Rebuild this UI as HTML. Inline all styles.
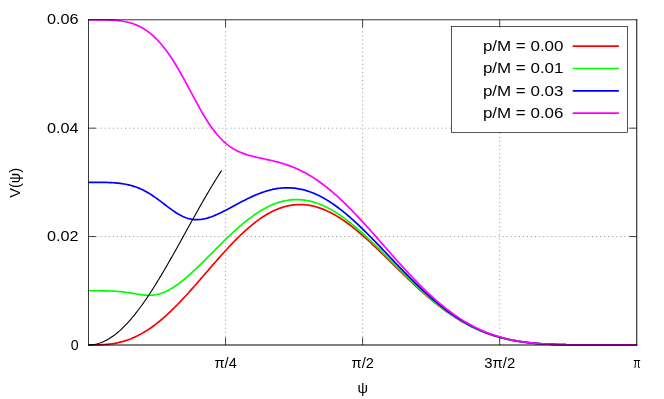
<!DOCTYPE html>
<html lang="en">
<head>
<meta charset="utf-8">
<title>V(ψ) potential for several p/M</title>
<style>
html,body{margin:0;padding:0;background:#ffffff;}
body{width:664px;height:399px;overflow:hidden;font-family:"Liberation Sans",sans-serif;}
svg{display:block;will-change:transform;}
svg text{-webkit-font-smoothing:antialiased;font-family:"Liberation Sans",sans-serif;font-size:14.8px;fill:#000000;}
</style>
</head>
<body>
<svg role="img" aria-label="Plot of V(ψ) versus ψ for p/M = 0.00, 0.01, 0.03, 0.06" width="664" height="399" viewBox="0 0 664 399">
<rect x="0" y="0" width="664" height="399" fill="#ffffff"/>
<path d="M225.56,344.95 V19.78 M362.62,344.95 V19.78 M499.69,344.95 V19.78 M88.50,236.56 H636.75 M88.50,128.17 H636.75" fill="none" stroke="#959595" stroke-width="1" stroke-dasharray="1 3.06"/>
<path d="M88.50,344.95 L89.87,344.95 L91.25,344.95 L92.62,344.94 L94.00,344.93 L95.37,344.92 L96.74,344.89 L98.12,344.86 L99.49,344.82 L100.87,344.77 L102.24,344.70 L103.61,344.62 L104.99,344.52 L106.36,344.41 L107.74,344.28 L109.11,344.13 L110.48,343.97 L111.86,343.78 L113.23,343.57 L114.61,343.35 L115.98,343.09 L117.36,342.82 L118.73,342.52 L120.10,342.20 L121.48,341.85 L122.85,341.48 L124.23,341.08 L125.60,340.65 L126.97,340.20 L128.35,339.72 L129.72,339.21 L131.10,338.68 L132.47,338.11 L133.84,337.52 L135.22,336.90 L136.59,336.25 L137.97,335.58 L139.34,334.87 L140.71,334.13 L142.09,333.37 L143.46,332.58 L144.84,331.75 L146.21,330.90 L147.58,330.03 L148.96,329.12 L150.33,328.19 L151.71,327.22 L153.08,326.23 L154.45,325.22 L155.83,324.17 L157.20,323.10 L158.58,322.01 L159.95,320.89 L161.33,319.74 L162.70,318.57 L164.07,317.37 L165.45,316.16 L166.82,314.91 L168.20,313.65 L169.57,312.36 L170.94,311.06 L172.32,309.73 L173.69,308.38 L175.07,307.01 L176.44,305.63 L177.81,304.23 L179.19,302.81 L180.56,301.37 L181.94,299.92 L183.31,298.45 L184.68,296.97 L186.06,295.47 L187.43,293.97 L188.81,292.45 L190.18,290.92 L191.55,289.38 L192.93,287.83 L194.30,286.27 L195.68,284.71 L197.05,283.14 L198.42,281.56 L199.80,279.98 L201.17,278.40 L202.55,276.81 L203.92,275.22 L205.30,273.63 L206.67,272.04 L208.04,270.45 L209.42,268.86 L210.79,267.27 L212.17,265.68 L213.54,264.10 L214.91,262.53 L216.29,260.96 L217.66,259.40 L219.04,257.84 L220.41,256.30 L221.78,254.76 L223.16,253.23 L224.53,251.72 L225.91,250.21 L227.28,248.72 L228.65,247.24 L230.03,245.78 L231.40,244.33 L232.78,242.90 L234.15,241.48 L235.52,240.08 L236.90,238.70 L238.27,237.34 L239.65,236.00 L241.02,234.68 L242.39,233.38 L243.77,232.10 L245.14,230.84 L246.52,229.61 L247.89,228.40 L249.27,227.21 L250.64,226.05 L252.01,224.92 L253.39,223.81 L254.76,222.73 L256.14,221.67 L257.51,220.64 L258.88,219.65 L260.26,218.67 L261.63,217.73 L263.01,216.82 L264.38,215.94 L265.75,215.09 L267.13,214.27 L268.50,213.48 L269.88,212.72 L271.25,212.00 L272.62,211.31 L274.00,210.64 L275.37,210.02 L276.75,209.42 L278.12,208.86 L279.49,208.33 L280.87,207.84 L282.24,207.38 L283.62,206.95 L284.99,206.56 L286.36,206.20 L287.74,205.88 L289.11,205.59 L290.49,205.34 L291.86,205.12 L293.23,204.93 L294.61,204.78 L295.98,204.66 L297.36,204.58 L298.73,204.54 L300.11,204.52 L301.48,204.54 L302.85,204.60 L304.23,204.69 L305.60,204.81 L306.98,204.97 L308.35,205.16 L309.72,205.38 L311.10,205.64 L312.47,205.93 L313.85,206.25 L315.22,206.60 L316.59,206.99 L317.97,207.41 L319.34,207.86 L320.72,208.34 L322.09,208.85 L323.46,209.39 L324.84,209.96 L326.21,210.56 L327.59,211.19 L328.96,211.84 L330.33,212.53 L331.71,213.24 L333.08,213.98 L334.46,214.75 L335.83,215.54 L337.20,216.36 L338.58,217.20 L339.95,218.07 L341.33,218.96 L342.70,219.88 L344.08,220.82 L345.45,221.78 L346.82,222.76 L348.20,223.76 L349.57,224.79 L350.95,225.83 L352.32,226.90 L353.69,227.98 L355.07,229.08 L356.44,230.20 L357.82,231.33 L359.19,232.49 L360.56,233.65 L361.94,234.83 L363.31,236.03 L364.69,237.24 L366.06,238.47 L367.43,239.70 L368.81,240.95 L370.18,242.21 L371.56,243.48 L372.93,244.76 L374.30,246.04 L375.68,247.34 L377.05,248.65 L378.43,249.96 L379.80,251.27 L381.17,252.60 L382.55,253.93 L383.92,255.26 L385.30,256.60 L386.67,257.94 L388.05,259.28 L389.42,260.63 L390.79,261.98 L392.17,263.33 L393.54,264.67 L394.92,266.02 L396.29,267.37 L397.66,268.72 L399.04,270.06 L400.41,271.40 L401.79,272.74 L403.16,274.07 L404.53,275.40 L405.91,276.72 L407.28,278.04 L408.66,279.36 L410.03,280.66 L411.40,281.96 L412.78,283.25 L414.15,284.54 L415.53,285.82 L416.90,287.08 L418.27,288.34 L419.65,289.59 L421.02,290.83 L422.40,292.05 L423.77,293.27 L425.14,294.48 L426.52,295.67 L427.89,296.85 L429.27,298.02 L430.64,299.18 L432.02,300.32 L433.39,301.45 L434.76,302.57 L436.14,303.67 L437.51,304.76 L438.89,305.83 L440.26,306.89 L441.63,307.94 L443.01,308.97 L444.38,309.98 L445.76,310.98 L447.13,311.96 L448.50,312.93 L449.88,313.88 L451.25,314.82 L452.63,315.74 L454.00,316.64 L455.37,317.53 L456.75,318.40 L458.12,319.25 L459.50,320.09 L460.87,320.91 L462.24,321.71 L463.62,322.50 L464.99,323.27 L466.37,324.02 L467.74,324.76 L469.11,325.48 L470.49,326.18 L471.86,326.87 L473.24,327.54 L474.61,328.19 L475.98,328.83 L477.36,329.45 L478.73,330.06 L480.11,330.65 L481.48,331.22 L482.86,331.78 L484.23,332.32 L485.60,332.85 L486.98,333.36 L488.35,333.86 L489.73,334.34 L491.10,334.80 L492.47,335.26 L493.85,335.69 L495.22,336.12 L496.60,336.53 L497.97,336.92 L499.34,337.31 L500.72,337.68 L502.09,338.03 L503.47,338.38 L504.84,338.71 L506.21,339.03 L507.59,339.33 L508.96,339.63 L510.34,339.91 L511.71,340.18 L513.08,340.45 L514.46,340.70 L515.83,340.94 L517.21,341.17 L518.58,341.38 L519.95,341.59 L521.33,341.80 L522.70,341.99 L524.08,342.17 L525.45,342.34 L526.83,342.51 L528.20,342.66 L529.57,342.81 L530.95,342.96 L532.32,343.09 L533.70,343.22 L535.07,343.34 L536.44,343.45 L537.82,343.56 L539.19,343.66 L540.57,343.76 L541.94,343.85 L543.31,343.93 L544.69,344.01 L546.06,344.08 L547.44,344.15 L548.81,344.22 L550.18,344.28 L551.56,344.34 L552.93,344.39 L554.31,344.44 L555.68,344.49 L557.05,344.53 L558.43,344.57 L559.80,344.60 L561.18,344.64 L562.55,344.67 L563.92,344.70 L565.30,344.72 L566.67,344.75 L568.05,344.77 L569.42,344.79 L570.80,344.81 L572.17,344.82 L573.54,344.84 L574.92,344.85 L576.29,344.86 L577.67,344.87 L579.04,344.88 L580.41,344.89 L581.79,344.90 L583.16,344.91 L584.54,344.91 L585.91,344.92 L587.28,344.92 L588.66,344.93 L590.03,344.93 L591.41,344.93 L592.78,344.94 L594.15,344.94 L595.53,344.94 L596.90,344.94 L598.28,344.94 L599.65,344.94 L601.02,344.95 L602.40,344.95 L603.77,344.95 L605.15,344.95 L606.52,344.95 L607.89,344.95 L609.27,344.95 L610.64,344.95 L612.02,344.95 L613.39,344.95 L614.77,344.95 L616.14,344.95 L617.51,344.95 L618.89,344.95 L620.26,344.95 L621.64,344.95 L623.01,344.95 L624.38,344.95 L625.76,344.95 L627.13,344.95 L628.51,344.95 L629.88,344.95 L631.25,344.95 L632.63,344.95 L634.00,344.95 L635.38,344.95 L636.75,344.95" fill="none" stroke="#ff0000" stroke-width="1.7" stroke-linejoin="round"/>
<path d="M88.50,290.75 L89.87,290.76 L91.25,290.76 L92.62,290.76 L94.00,290.76 L95.37,290.76 L96.74,290.76 L98.12,290.76 L99.49,290.77 L100.87,290.78 L102.24,290.79 L103.61,290.81 L104.99,290.83 L106.36,290.86 L107.74,290.89 L109.11,290.94 L110.48,290.99 L111.86,291.05 L113.23,291.12 L114.61,291.20 L115.98,291.29 L117.36,291.39 L118.73,291.51 L120.10,291.64 L121.48,291.78 L122.85,291.94 L124.23,292.10 L125.60,292.28 L126.97,292.47 L128.35,292.68 L129.72,292.89 L131.10,293.10 L132.47,293.33 L133.84,293.56 L135.22,293.78 L136.59,294.01 L137.97,294.23 L139.34,294.44 L140.71,294.63 L142.09,294.81 L143.46,294.97 L144.84,295.10 L146.21,295.20 L147.58,295.26 L148.96,295.29 L150.33,295.27 L151.71,295.21 L153.08,295.10 L154.45,294.94 L155.83,294.72 L157.20,294.45 L158.58,294.13 L159.95,293.75 L161.33,293.32 L162.70,292.84 L164.07,292.30 L165.45,291.71 L166.82,291.07 L168.20,290.38 L169.57,289.64 L170.94,288.86 L172.32,288.04 L173.69,287.17 L175.07,286.27 L176.44,285.32 L177.81,284.34 L179.19,283.33 L180.56,282.29 L181.94,281.21 L183.31,280.10 L184.68,278.97 L186.06,277.81 L187.43,276.63 L188.81,275.43 L190.18,274.20 L191.55,272.96 L192.93,271.69 L194.30,270.41 L195.68,269.12 L197.05,267.81 L198.42,266.48 L199.80,265.15 L201.17,263.80 L202.55,262.45 L203.92,261.09 L205.30,259.72 L206.67,258.35 L208.04,256.97 L209.42,255.59 L210.79,254.20 L212.17,252.82 L213.54,251.43 L214.91,250.05 L216.29,248.67 L217.66,247.29 L219.04,245.92 L220.41,244.55 L221.78,243.18 L223.16,241.83 L224.53,240.48 L225.91,239.14 L227.28,237.81 L228.65,236.50 L230.03,235.19 L231.40,233.90 L232.78,232.62 L234.15,231.35 L235.52,230.10 L236.90,228.87 L238.27,227.65 L239.65,226.45 L241.02,225.27 L242.39,224.10 L243.77,222.96 L245.14,221.84 L246.52,220.74 L247.89,219.66 L249.27,218.60 L250.64,217.57 L252.01,216.56 L253.39,215.57 L254.76,214.61 L256.14,213.68 L257.51,212.77 L258.88,211.89 L260.26,211.03 L261.63,210.21 L263.01,209.41 L264.38,208.64 L265.75,207.90 L267.13,207.19 L268.50,206.51 L269.88,205.85 L271.25,205.23 L272.62,204.65 L274.00,204.09 L275.37,203.56 L276.75,203.07 L278.12,202.60 L279.49,202.17 L280.87,201.77 L282.24,201.41 L283.62,201.08 L284.99,200.78 L286.36,200.51 L287.74,200.28 L289.11,200.08 L290.49,199.91 L291.86,199.78 L293.23,199.68 L294.61,199.62 L295.98,199.58 L297.36,199.59 L298.73,199.62 L300.11,199.69 L301.48,199.79 L302.85,199.92 L304.23,200.09 L305.60,200.29 L306.98,200.53 L308.35,200.79 L309.72,201.09 L311.10,201.42 L312.47,201.78 L313.85,202.17 L315.22,202.60 L316.59,203.05 L317.97,203.54 L319.34,204.06 L320.72,204.60 L322.09,205.18 L323.46,205.79 L324.84,206.42 L326.21,207.09 L327.59,207.78 L328.96,208.50 L330.33,209.24 L331.71,210.02 L333.08,210.81 L334.46,211.64 L335.83,212.49 L337.20,213.37 L338.58,214.27 L339.95,215.19 L341.33,216.14 L342.70,217.11 L344.08,218.10 L345.45,219.11 L346.82,220.15 L348.20,221.20 L349.57,222.28 L350.95,223.37 L352.32,224.49 L353.69,225.62 L355.07,226.77 L356.44,227.93 L357.82,229.11 L359.19,230.31 L360.56,231.52 L361.94,232.75 L363.31,233.99 L364.69,235.24 L366.06,236.51 L367.43,237.79 L368.81,239.08 L370.18,240.38 L371.56,241.68 L372.93,243.00 L374.30,244.33 L375.68,245.66 L377.05,247.01 L378.43,248.35 L379.80,249.71 L381.17,251.07 L382.55,252.43 L383.92,253.80 L385.30,255.17 L386.67,256.55 L388.05,257.92 L389.42,259.30 L390.79,260.68 L392.17,262.06 L393.54,263.44 L394.92,264.82 L396.29,266.20 L397.66,267.57 L399.04,268.94 L400.41,270.31 L401.79,271.68 L403.16,273.04 L404.53,274.39 L405.91,275.74 L407.28,277.09 L408.66,278.43 L410.03,279.76 L411.40,281.08 L412.78,282.40 L414.15,283.71 L415.53,285.00 L416.90,286.29 L418.27,287.57 L419.65,288.84 L421.02,290.10 L422.40,291.35 L423.77,292.59 L425.14,293.81 L426.52,295.03 L427.89,296.23 L429.27,297.41 L430.64,298.59 L432.02,299.75 L433.39,300.90 L434.76,302.03 L436.14,303.15 L437.51,304.26 L438.89,305.35 L440.26,306.42 L441.63,307.48 L443.01,308.53 L444.38,309.55 L445.76,310.57 L447.13,311.56 L448.50,312.54 L449.88,313.51 L451.25,314.46 L452.63,315.39 L454.00,316.30 L455.37,317.20 L456.75,318.08 L458.12,318.95 L459.50,319.80 L460.87,320.63 L462.24,321.44 L463.62,322.24 L464.99,323.02 L466.37,323.78 L467.74,324.53 L469.11,325.25 L470.49,325.97 L471.86,326.66 L473.24,327.34 L474.61,328.00 L475.98,328.65 L477.36,329.28 L478.73,329.89 L480.11,330.49 L481.48,331.07 L482.86,331.63 L484.23,332.18 L485.60,332.71 L486.98,333.23 L488.35,333.73 L489.73,334.22 L491.10,334.69 L492.47,335.15 L493.85,335.59 L495.22,336.02 L496.60,336.44 L497.97,336.84 L499.34,337.23 L500.72,337.60 L502.09,337.96 L503.47,338.31 L504.84,338.64 L506.21,338.96 L507.59,339.27 L508.96,339.57 L510.34,339.86 L511.71,340.13 L513.08,340.40 L514.46,340.65 L515.83,340.89 L517.21,341.13 L518.58,341.35 L519.95,341.56 L521.33,341.76 L522.70,341.96 L524.08,342.14 L525.45,342.32 L526.83,342.48 L528.20,342.64 L529.57,342.79 L530.95,342.94 L532.32,343.07 L533.70,343.20 L535.07,343.32 L536.44,343.44 L537.82,343.55 L539.19,343.65 L540.57,343.74 L541.94,343.84 L543.31,343.92 L544.69,344.00 L546.06,344.08 L547.44,344.15 L548.81,344.21 L550.18,344.27 L551.56,344.33 L552.93,344.38 L554.31,344.43 L555.68,344.48 L557.05,344.52 L558.43,344.56 L559.80,344.60 L561.18,344.63 L562.55,344.66 L563.92,344.69 L565.30,344.72 L566.67,344.74 L568.05,344.77 L569.42,344.79 L570.80,344.80 L572.17,344.82 L573.54,344.84 L574.92,344.85 L576.29,344.86 L577.67,344.87 L579.04,344.88 L580.41,344.89 L581.79,344.90 L583.16,344.91 L584.54,344.91 L585.91,344.92 L587.28,344.92 L588.66,344.93 L590.03,344.93 L591.41,344.93 L592.78,344.94 L594.15,344.94 L595.53,344.94 L596.90,344.94 L598.28,344.94 L599.65,344.94 L601.02,344.95 L602.40,344.95 L603.77,344.95 L605.15,344.95 L606.52,344.95 L607.89,344.95 L609.27,344.95 L610.64,344.95 L612.02,344.95 L613.39,344.95 L614.77,344.95 L616.14,344.95 L617.51,344.95 L618.89,344.95 L620.26,344.95 L621.64,344.95 L623.01,344.95 L624.38,344.95 L625.76,344.95 L627.13,344.95 L628.51,344.95 L629.88,344.95 L631.25,344.95 L632.63,344.95 L634.00,344.95 L635.38,344.95 L636.75,344.95" fill="none" stroke="#00ff00" stroke-width="1.7" stroke-linejoin="round"/>
<path d="M88.50,182.37 L89.87,182.37 L91.25,182.37 L92.62,182.37 L94.00,182.37 L95.37,182.37 L96.74,182.37 L98.12,182.37 L99.49,182.38 L100.87,182.39 L102.24,182.40 L103.61,182.42 L104.99,182.44 L106.36,182.47 L107.74,182.51 L109.11,182.56 L110.48,182.61 L111.86,182.68 L113.23,182.76 L114.61,182.85 L115.98,182.96 L117.36,183.08 L118.73,183.22 L120.10,183.38 L121.48,183.56 L122.85,183.76 L124.23,183.99 L125.60,184.24 L126.97,184.52 L128.35,184.82 L129.72,185.15 L131.10,185.52 L132.47,185.91 L133.84,186.33 L135.22,186.79 L136.59,187.28 L137.97,187.81 L139.34,188.37 L140.71,188.97 L142.09,189.60 L143.46,190.27 L144.84,190.98 L146.21,191.72 L147.58,192.50 L148.96,193.31 L150.33,194.15 L151.71,195.03 L153.08,195.93 L154.45,196.87 L155.83,197.83 L157.20,198.81 L158.58,199.82 L159.95,200.84 L161.33,201.88 L162.70,202.92 L164.07,203.97 L165.45,205.03 L166.82,206.08 L168.20,207.12 L169.57,208.15 L170.94,209.16 L172.32,210.15 L173.69,211.11 L175.07,212.04 L176.44,212.92 L177.81,213.77 L179.19,214.57 L180.56,215.32 L181.94,216.02 L183.31,216.66 L184.68,217.24 L186.06,217.75 L187.43,218.21 L188.81,218.60 L190.18,218.93 L191.55,219.20 L192.93,219.40 L194.30,219.54 L195.68,219.61 L197.05,219.63 L198.42,219.59 L199.80,219.49 L201.17,219.34 L202.55,219.13 L203.92,218.88 L205.30,218.58 L206.67,218.24 L208.04,217.85 L209.42,217.43 L210.79,216.96 L212.17,216.47 L213.54,215.94 L214.91,215.38 L216.29,214.80 L217.66,214.19 L219.04,213.56 L220.41,212.91 L221.78,212.24 L223.16,211.55 L224.53,210.86 L225.91,210.15 L227.28,209.43 L228.65,208.70 L230.03,207.97 L231.40,207.23 L232.78,206.49 L234.15,205.75 L235.52,205.00 L236.90,204.27 L238.27,203.53 L239.65,202.80 L241.02,202.07 L242.39,201.35 L243.77,200.64 L245.14,199.94 L246.52,199.25 L247.89,198.57 L249.27,197.91 L250.64,197.26 L252.01,196.62 L253.39,196.00 L254.76,195.40 L256.14,194.82 L257.51,194.25 L258.88,193.70 L260.26,193.18 L261.63,192.67 L263.01,192.18 L264.38,191.72 L265.75,191.28 L267.13,190.87 L268.50,190.48 L269.88,190.11 L271.25,189.77 L272.62,189.45 L274.00,189.16 L275.37,188.90 L276.75,188.66 L278.12,188.45 L279.49,188.27 L280.87,188.12 L282.24,188.00 L283.62,187.90 L284.99,187.83 L286.36,187.80 L287.74,187.79 L289.11,187.81 L290.49,187.86 L291.86,187.94 L293.23,188.05 L294.61,188.19 L295.98,188.37 L297.36,188.57 L298.73,188.80 L300.11,189.06 L301.48,189.35 L302.85,189.68 L304.23,190.03 L305.60,190.41 L306.98,190.82 L308.35,191.26 L309.72,191.74 L311.10,192.24 L312.47,192.77 L313.85,193.32 L315.22,193.91 L316.59,194.53 L317.97,195.17 L319.34,195.85 L320.72,196.55 L322.09,197.27 L323.46,198.03 L324.84,198.81 L326.21,199.62 L327.59,200.45 L328.96,201.31 L330.33,202.19 L331.71,203.10 L333.08,204.03 L334.46,204.99 L335.83,205.97 L337.20,206.97 L338.58,208.00 L339.95,209.05 L341.33,210.12 L342.70,211.20 L344.08,212.32 L345.45,213.44 L346.82,214.59 L348.20,215.76 L349.57,216.95 L350.95,218.15 L352.32,219.37 L353.69,220.61 L355.07,221.86 L356.44,223.13 L357.82,224.41 L359.19,225.71 L360.56,227.02 L361.94,228.34 L363.31,229.68 L364.69,231.03 L366.06,232.38 L367.43,233.75 L368.81,235.13 L370.18,236.51 L371.56,237.91 L372.93,239.31 L374.30,240.72 L375.68,242.14 L377.05,243.56 L378.43,244.99 L379.80,246.42 L381.17,247.86 L382.55,249.30 L383.92,250.74 L385.30,252.18 L386.67,253.63 L388.05,255.07 L389.42,256.52 L390.79,257.97 L392.17,259.41 L393.54,260.86 L394.92,262.30 L396.29,263.74 L397.66,265.18 L399.04,266.61 L400.41,268.04 L401.79,269.46 L403.16,270.88 L404.53,272.29 L405.91,273.70 L407.28,275.10 L408.66,276.49 L410.03,277.87 L411.40,279.25 L412.78,280.61 L414.15,281.97 L415.53,283.31 L416.90,284.65 L418.27,285.98 L419.65,287.29 L421.02,288.60 L422.40,289.89 L423.77,291.17 L425.14,292.43 L426.52,293.69 L427.89,294.93 L429.27,296.15 L430.64,297.37 L432.02,298.57 L433.39,299.75 L434.76,300.92 L436.14,302.07 L437.51,303.21 L438.89,304.34 L440.26,305.44 L441.63,306.53 L443.01,307.61 L444.38,308.67 L445.76,309.71 L447.13,310.74 L448.50,311.74 L449.88,312.74 L451.25,313.71 L452.63,314.67 L454.00,315.61 L455.37,316.53 L456.75,317.44 L458.12,318.32 L459.50,319.20 L460.87,320.05 L462.24,320.88 L463.62,321.70 L464.99,322.50 L466.37,323.28 L467.74,324.05 L469.11,324.80 L470.49,325.53 L471.86,326.24 L473.24,326.94 L474.61,327.61 L475.98,328.28 L477.36,328.92 L478.73,329.55 L480.11,330.16 L481.48,330.75 L482.86,331.33 L484.23,331.89 L485.60,332.44 L486.98,332.97 L488.35,333.48 L489.73,333.98 L491.10,334.47 L492.47,334.93 L493.85,335.39 L495.22,335.83 L496.60,336.25 L497.97,336.66 L499.34,337.06 L500.72,337.44 L502.09,337.81 L503.47,338.16 L504.84,338.50 L506.21,338.83 L507.59,339.15 L508.96,339.46 L510.34,339.75 L511.71,340.03 L513.08,340.30 L514.46,340.56 L515.83,340.81 L517.21,341.04 L518.58,341.27 L519.95,341.49 L521.33,341.69 L522.70,341.89 L524.08,342.08 L525.45,342.26 L526.83,342.43 L528.20,342.59 L529.57,342.75 L530.95,342.89 L532.32,343.03 L533.70,343.16 L535.07,343.29 L536.44,343.40 L537.82,343.52 L539.19,343.62 L540.57,343.72 L541.94,343.81 L543.31,343.90 L544.69,343.98 L546.06,344.06 L547.44,344.13 L548.81,344.20 L550.18,344.26 L551.56,344.32 L552.93,344.37 L554.31,344.42 L555.68,344.47 L557.05,344.51 L558.43,344.56 L559.80,344.59 L561.18,344.63 L562.55,344.66 L563.92,344.69 L565.30,344.72 L566.67,344.74 L568.05,344.76 L569.42,344.78 L570.80,344.80 L572.17,344.82 L573.54,344.83 L574.92,344.85 L576.29,344.86 L577.67,344.87 L579.04,344.88 L580.41,344.89 L581.79,344.90 L583.16,344.91 L584.54,344.91 L585.91,344.92 L587.28,344.92 L588.66,344.93 L590.03,344.93 L591.41,344.93 L592.78,344.94 L594.15,344.94 L595.53,344.94 L596.90,344.94 L598.28,344.94 L599.65,344.94 L601.02,344.95 L602.40,344.95 L603.77,344.95 L605.15,344.95 L606.52,344.95 L607.89,344.95 L609.27,344.95 L610.64,344.95 L612.02,344.95 L613.39,344.95 L614.77,344.95 L616.14,344.95 L617.51,344.95 L618.89,344.95 L620.26,344.95 L621.64,344.95 L623.01,344.95 L624.38,344.95 L625.76,344.95 L627.13,344.95 L628.51,344.95 L629.88,344.95 L631.25,344.95 L632.63,344.95 L634.00,344.95 L635.38,344.95 L636.75,344.95" fill="none" stroke="#0000ff" stroke-width="1.7" stroke-linejoin="round"/>
<path d="M88.50,19.78 L89.87,19.78 L91.25,19.78 L92.62,19.78 L94.00,19.78 L95.37,19.78 L96.74,19.79 L98.12,19.79 L99.49,19.80 L100.87,19.81 L102.24,19.82 L103.61,19.84 L104.99,19.86 L106.36,19.89 L107.74,19.93 L109.11,19.97 L110.48,20.03 L111.86,20.10 L113.23,20.18 L114.61,20.27 L115.98,20.39 L117.36,20.51 L118.73,20.66 L120.10,20.83 L121.48,21.02 L122.85,21.23 L124.23,21.47 L125.60,21.74 L126.97,22.04 L128.35,22.37 L129.72,22.73 L131.10,23.12 L132.47,23.56 L133.84,24.03 L135.22,24.55 L136.59,25.10 L137.97,25.70 L139.34,26.35 L140.71,27.05 L142.09,27.79 L143.46,28.59 L144.84,29.44 L146.21,30.35 L147.58,31.31 L148.96,32.33 L150.33,33.41 L151.71,34.55 L153.08,35.75 L154.45,37.02 L155.83,38.34 L157.20,39.74 L158.58,41.19 L159.95,42.72 L161.33,44.30 L162.70,45.96 L164.07,47.68 L165.45,49.46 L166.82,51.31 L168.20,53.22 L169.57,55.20 L170.94,57.24 L172.32,59.33 L173.69,61.48 L175.07,63.69 L176.44,65.95 L177.81,68.26 L179.19,70.62 L180.56,73.02 L181.94,75.46 L183.31,77.93 L184.68,80.44 L186.06,82.96 L187.43,85.51 L188.81,88.08 L190.18,90.65 L191.55,93.22 L192.93,95.80 L194.30,98.36 L195.68,100.91 L197.05,103.43 L198.42,105.93 L199.80,108.40 L201.17,110.82 L202.55,113.20 L203.92,115.54 L205.30,117.81 L206.67,120.03 L208.04,122.18 L209.42,124.26 L210.79,126.28 L212.17,128.22 L213.54,130.09 L214.91,131.88 L216.29,133.59 L217.66,135.23 L219.04,136.79 L220.41,138.27 L221.78,139.67 L223.16,141.01 L224.53,142.26 L225.91,143.45 L227.28,144.57 L228.65,145.62 L230.03,146.61 L231.40,147.54 L232.78,148.41 L234.15,149.23 L235.52,149.99 L236.90,150.70 L238.27,151.37 L239.65,152.00 L241.02,152.58 L242.39,153.13 L243.77,153.64 L245.14,154.12 L246.52,154.58 L247.89,155.00 L249.27,155.41 L250.64,155.79 L252.01,156.16 L253.39,156.50 L254.76,156.84 L256.14,157.16 L257.51,157.48 L258.88,157.78 L260.26,158.08 L261.63,158.38 L263.01,158.67 L264.38,158.96 L265.75,159.26 L267.13,159.55 L268.50,159.86 L269.88,160.16 L271.25,160.47 L272.62,160.79 L274.00,161.12 L275.37,161.46 L276.75,161.82 L278.12,162.18 L279.49,162.55 L280.87,162.95 L282.24,163.35 L283.62,163.77 L284.99,164.21 L286.36,164.66 L287.74,165.14 L289.11,165.63 L290.49,166.14 L291.86,166.66 L293.23,167.21 L294.61,167.78 L295.98,168.37 L297.36,168.98 L298.73,169.61 L300.11,170.26 L301.48,170.94 L302.85,171.64 L304.23,172.35 L305.60,173.10 L306.98,173.86 L308.35,174.65 L309.72,175.45 L311.10,176.28 L312.47,177.14 L313.85,178.01 L315.22,178.91 L316.59,179.83 L317.97,180.78 L319.34,181.74 L320.72,182.73 L322.09,183.74 L323.46,184.77 L324.84,185.82 L326.21,186.90 L327.59,187.99 L328.96,189.11 L330.33,190.24 L331.71,191.40 L333.08,192.58 L334.46,193.77 L335.83,194.98 L337.20,196.22 L338.58,197.47 L339.95,198.74 L341.33,200.02 L342.70,201.32 L344.08,202.64 L345.45,203.98 L346.82,205.33 L348.20,206.70 L349.57,208.08 L350.95,209.47 L352.32,210.88 L353.69,212.30 L355.07,213.74 L356.44,215.18 L357.82,216.64 L359.19,218.11 L360.56,219.59 L361.94,221.08 L363.31,222.57 L364.69,224.08 L366.06,225.60 L367.43,227.12 L368.81,228.65 L370.18,230.18 L371.56,231.72 L372.93,233.27 L374.30,234.82 L375.68,236.37 L377.05,237.93 L378.43,239.49 L379.80,241.05 L381.17,242.62 L382.55,244.18 L383.92,245.75 L385.30,247.31 L386.67,248.88 L388.05,250.44 L389.42,252.00 L390.79,253.56 L392.17,255.12 L393.54,256.67 L394.92,258.22 L396.29,259.76 L397.66,261.30 L399.04,262.84 L400.41,264.36 L401.79,265.88 L403.16,267.39 L404.53,268.90 L405.91,270.40 L407.28,271.88 L408.66,273.36 L410.03,274.83 L411.40,276.29 L412.78,277.74 L414.15,279.17 L415.53,280.60 L416.90,282.01 L418.27,283.41 L419.65,284.80 L421.02,286.18 L422.40,287.54 L423.77,288.89 L425.14,290.22 L426.52,291.54 L427.89,292.85 L429.27,294.13 L430.64,295.41 L432.02,296.67 L433.39,297.91 L434.76,299.14 L436.14,300.35 L437.51,301.54 L438.89,302.72 L440.26,303.88 L441.63,305.02 L443.01,306.15 L444.38,307.25 L445.76,308.34 L447.13,309.41 L448.50,310.47 L449.88,311.50 L451.25,312.52 L452.63,313.52 L454.00,314.50 L455.37,315.46 L456.75,316.41 L458.12,317.33 L459.50,318.24 L460.87,319.13 L462.24,320.00 L463.62,320.85 L464.99,321.68 L466.37,322.50 L467.74,323.29 L469.11,324.07 L470.49,324.83 L471.86,325.57 L473.24,326.29 L474.61,327.00 L475.98,327.68 L477.36,328.35 L478.73,329.00 L480.11,329.64 L481.48,330.26 L482.86,330.86 L484.23,331.44 L485.60,332.00 L486.98,332.55 L488.35,333.09 L489.73,333.60 L491.10,334.11 L492.47,334.59 L493.85,335.06 L495.22,335.51 L496.60,335.95 L497.97,336.38 L499.34,336.79 L500.72,337.18 L502.09,337.57 L503.47,337.93 L504.84,338.29 L506.21,338.63 L507.59,338.96 L508.96,339.27 L510.34,339.58 L511.71,339.87 L513.08,340.15 L514.46,340.41 L515.83,340.67 L517.21,340.91 L518.58,341.15 L519.95,341.37 L521.33,341.59 L522.70,341.79 L524.08,341.99 L525.45,342.17 L526.83,342.35 L528.20,342.52 L529.57,342.67 L530.95,342.83 L532.32,342.97 L533.70,343.10 L535.07,343.23 L536.44,343.35 L537.82,343.47 L539.19,343.58 L540.57,343.68 L541.94,343.78 L543.31,343.87 L544.69,343.95 L546.06,344.03 L547.44,344.10 L548.81,344.17 L550.18,344.24 L551.56,344.30 L552.93,344.35 L554.31,344.41 L555.68,344.46 L557.05,344.50 L558.43,344.54 L559.80,344.58 L561.18,344.62 L562.55,344.65 L563.92,344.68 L565.30,344.71 L566.67,344.73 L568.05,344.76 L569.42,344.78 L570.80,344.80 L572.17,344.81 L573.54,344.83 L574.92,344.84 L576.29,344.86 L577.67,344.87 L579.04,344.88 L580.41,344.89 L581.79,344.90 L583.16,344.90 L584.54,344.91 L585.91,344.92 L587.28,344.92 L588.66,344.93 L590.03,344.93 L591.41,344.93 L592.78,344.94 L594.15,344.94 L595.53,344.94 L596.90,344.94 L598.28,344.94 L599.65,344.94 L601.02,344.95 L602.40,344.95 L603.77,344.95 L605.15,344.95 L606.52,344.95 L607.89,344.95 L609.27,344.95 L610.64,344.95 L612.02,344.95 L613.39,344.95 L614.77,344.95 L616.14,344.95 L617.51,344.95 L618.89,344.95 L620.26,344.95 L621.64,344.95 L623.01,344.95 L624.38,344.95 L625.76,344.95 L627.13,344.95 L628.51,344.95 L629.88,344.95 L631.25,344.95 L632.63,344.95 L634.00,344.95 L635.38,344.95 L636.75,344.95" fill="none" stroke="#ff00ff" stroke-width="1.7" stroke-linejoin="round"/>
<path d="M88.50,344.95 L89.62,344.93 L90.74,344.88 L91.86,344.78 L92.98,344.65 L94.09,344.48 L95.21,344.28 L96.33,344.03 L97.45,343.75 L98.57,343.44 L99.69,343.08 L100.81,342.69 L101.93,342.26 L103.04,341.80 L104.16,341.30 L105.28,340.76 L106.40,340.19 L107.52,339.58 L108.64,338.94 L109.76,338.26 L110.88,337.55 L111.99,336.80 L113.11,336.02 L114.23,335.20 L115.35,334.35 L116.47,333.46 L117.59,332.54 L118.71,331.59 L119.83,330.61 L120.94,329.59 L122.06,328.55 L123.18,327.47 L124.30,326.36 L125.42,325.21 L126.54,324.04 L127.66,322.84 L128.78,321.61 L129.90,320.35 L131.01,319.06 L132.13,317.74 L133.25,316.40 L134.37,315.03 L135.49,313.63 L136.61,312.20 L137.73,310.75 L138.85,309.27 L139.96,307.77 L141.08,306.25 L142.20,304.70 L143.32,303.12 L144.44,301.53 L145.56,299.91 L146.68,298.27 L147.80,296.61 L148.91,294.93 L150.03,293.23 L151.15,291.51 L152.27,289.77 L153.39,288.01 L154.51,286.23 L155.63,284.44 L156.75,282.63 L157.87,280.81 L158.98,278.97 L160.10,277.11 L161.22,275.24 L162.34,273.36 L163.46,271.47 L164.58,269.56 L165.70,267.64 L166.82,265.71 L167.93,263.77 L169.05,261.82 L170.17,259.86 L171.29,257.89 L172.41,255.91 L173.53,253.93 L174.65,251.94 L175.77,249.94 L176.88,247.94 L178.00,245.94 L179.12,243.93 L180.24,241.91 L181.36,239.89 L182.48,237.88 L183.60,235.85 L184.72,233.83 L185.83,231.81 L186.95,229.79 L188.07,227.77 L189.19,225.74 L190.31,223.73 L191.43,221.71 L192.55,219.70 L193.67,217.69 L194.79,215.69 L195.90,213.69 L197.02,211.69 L198.14,209.71 L199.26,207.73 L200.38,205.75 L201.50,203.79 L202.62,201.83 L203.74,199.89 L204.85,197.95 L205.97,196.02 L207.09,194.11 L208.21,192.20 L209.33,190.31 L210.45,188.43 L211.57,186.56 L212.69,184.71 L213.80,182.87 L214.92,181.05 L216.04,179.24 L217.16,177.44 L218.28,175.67 L219.40,173.91 L220.52,172.16 L221.64,170.44" fill="none" stroke="#000000" stroke-width="1.1" stroke-linejoin="round"/>
<rect x="451.4" y="26.5" width="176.10" height="106.10" fill="#ffffff" stroke="#000000" stroke-width="0.66"/>
<text x="563.5" y="51.10" text-anchor="end" textLength="80.6" lengthAdjust="spacingAndGlyphs">p/M = 0.00</text>
<path d="M572.7,46.20 H618.9" stroke="#ff0000" stroke-width="1.7" fill="none"/>
<text x="563.5" y="73.40" text-anchor="end" textLength="80.6" lengthAdjust="spacingAndGlyphs">p/M = 0.01</text>
<path d="M572.7,68.50 H618.9" stroke="#00ff00" stroke-width="1.7" fill="none"/>
<text x="563.5" y="95.70" text-anchor="end" textLength="80.6" lengthAdjust="spacingAndGlyphs">p/M = 0.03</text>
<path d="M572.7,90.80 H618.9" stroke="#0000ff" stroke-width="1.7" fill="none"/>
<text x="563.5" y="118.00" text-anchor="end" textLength="80.6" lengthAdjust="spacingAndGlyphs">p/M = 0.06</text>
<path d="M572.7,113.10 H618.9" stroke="#ff00ff" stroke-width="1.7" fill="none"/>
<path d="M225.56,344.95 v-7.5 M225.56,19.78 v7.5 M362.62,344.95 v-7.5 M362.62,19.78 v7.5 M499.69,344.95 v-7.5 M499.69,19.78 v7.5 M88.50,236.56 h7.5 M636.75,236.56 h-7.5 M88.50,128.17 h7.5 M636.75,128.17 h-7.5" fill="none" stroke="#000000" stroke-width="0.72"/>
<path d="M88.5,19.78 H636.75" fill="none" stroke="#000000" stroke-width="0.8" stroke-linecap="square"/>
<path d="M636.75,19.78 V344.95" fill="none" stroke="#000000" stroke-width="0.95" stroke-linecap="square"/>
<path d="M636.75,344.95 H88.5" fill="none" stroke="#000000" stroke-width="1.05" stroke-linecap="square"/>
<path d="M88.5,344.95 V19.78" fill="none" stroke="#000000" stroke-width="0.78" stroke-linecap="square"/>
<text x="78.6" y="349.65" text-anchor="end" textLength="7.9" lengthAdjust="spacingAndGlyphs">0</text>
<text x="78.6" y="241.26" text-anchor="end" textLength="31.6" lengthAdjust="spacingAndGlyphs">0.02</text>
<text x="78.6" y="132.87" text-anchor="end" textLength="31.6" lengthAdjust="spacingAndGlyphs">0.04</text>
<text x="78.6" y="24.48" text-anchor="end" textLength="31.6" lengthAdjust="spacingAndGlyphs">0.06</text>
<text x="225.66" y="367.6" text-anchor="middle" textLength="22.3" lengthAdjust="spacingAndGlyphs">π/4</text>
<text x="362.73" y="367.6" text-anchor="middle" textLength="22.3" lengthAdjust="spacingAndGlyphs">π/2</text>
<text x="499.79" y="367.6" text-anchor="middle" textLength="30.9" lengthAdjust="spacingAndGlyphs">3π/2</text>
<text x="636.85" y="367.6" text-anchor="middle" textLength="7.4" lengthAdjust="spacingAndGlyphs">π</text>
<text x="362.9" y="393" text-anchor="middle">ψ</text>
<text transform="translate(19.7,182.8) rotate(-90)" text-anchor="middle" textLength="29.8" lengthAdjust="spacingAndGlyphs">V(ψ)</text>
</svg>
</body>
</html>
